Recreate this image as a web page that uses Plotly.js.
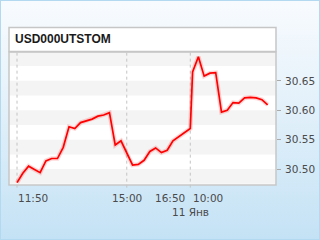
<!DOCTYPE html>
<html><head><meta charset="utf-8">
<script src="https://cdn.plot.ly/plotly-3.0.1.min.js"></script>
<style>
html,body{margin:0;padding:0;background:#c4e2f5;}
body{width:320px;height:240px;overflow:hidden;}
#wrap{position:relative;width:318px;height:238px;border:1px solid #b3d9f0;background:linear-gradient(#f8fbfe 0%, #e8f3fb 35%, #c4e2f5 100%);}
#chart{position:absolute;left:-1px;top:-1px;width:320px;height:240px;}
</style></head><body>
<div id="wrap"><div id="chart"></div></div>
<script>
const chartTitle = "USD000UTSTOM";
const day1Times = ["11:50","12:00","12:10","12:20","12:30","12:40","12:50","13:00","13:10","13:20",
  "13:30","13:40","13:50","14:00","14:10","14:20","14:30","14:40","14:50","15:00",
  "15:10","15:20","15:30","15:40","15:50","16:00","16:10","16:20","16:30","16:40","16:50"];
const day1Values = [30.477,30.493,30.505,30.500,30.494,30.514,30.518,30.518,30.537,30.572,
  30.569,30.579,30.582,30.585,30.590,30.592,30.596,30.541,30.548,30.526,
  30.507,30.508,30.515,30.530,30.536,30.528,30.532,30.548,30.555,30.563,30.569];
const day2Times = ["10:00","10:10","10:20","10:30","10:40","10:50","11:00","11:10","11:20","11:30","11:40","11:50","12:00","12:10"];
const day2Values = [30.665,30.691,30.658,30.663,30.664,30.597,30.600,30.613,30.612,30.621,30.622,30.621,30.618,30.609];
const dateLabel = "11 Янв";
const yTicks = [30.50, 30.55, 30.60, 30.65];

// layout constants
const dayGap = 0.4;
const stripeStep = 0.05;

const x1 = day1Times.map((t,i)=>i);
const x2 = day2Times.map((t,k)=>day1Times.length - 1 + dayGap + k);
const xs = x1.concat(x2);
const ys = day1Values.concat(day2Values);

const idx = t => { let i = day1Times.indexOf(t); if (i>=0) return x1[i]; return x2[day2Times.indexOf(t)]; };

const yMin = 30.473, yMax = 30.699;
const shapes = [];
const stripeTops = yTicks.concat([yTicks[yTicks.length-1] + stripeStep]);
stripeTops.forEach(v => shapes.push({type:'rect', xref:'paper', yref:'y', x0:0, x1:1, y0:v-stripeStep/2, y1:Math.min(v,yMax), fillcolor:'#f4f4f4', line:{width:0}, layer:'below'}));
[idx("11:50"), idx("15:00"), idx("16:50")].forEach(x => shapes.push({type:'line', xref:'x', yref:'paper', x0:x, x1:x, y0:-0.02, y1:1, line:{color:'#c4c4c4', width:1, dash:'dot'}, layer:'below'}));
shapes.push({type:'rect', xref:'paper', yref:'paper', x0:0, x1:1, y0:0, y1:1, line:{color:'#c6c6c6', width:1.5}, layer:'above'});
shapes.push({type:'rect', xref:'paper', yref:'paper', x0:0, x1:1, y0:1.004, y1:1.184, fillcolor:'#ffffff', line:{color:'#c6c6c6', width:1.5}});

const tickFont = {family:'DejaVu Sans, sans-serif', size:10.5, color:'#4a4a4a'};
const annotations = [
  {x:idx("11:50"), y:-0.04, xref:'x', yref:'paper', text:"11:50", showarrow:false, xanchor:'left', yanchor:'top', xshift:-1, font:tickFont},
  {x:idx("15:00"), y:-0.04, xref:'x', yref:'paper', text:"15:00", showarrow:false, xanchor:'center', yanchor:'top', font:tickFont},
  {x:idx("16:50"), y:-0.04, xref:'x', yref:'paper', text:"16:50", showarrow:false, xanchor:'right', yanchor:'top', xshift:-3, font:tickFont},
  {x:idx("16:50"), y:-0.04, xref:'x', yref:'paper', text:day2Times[0], showarrow:false, xanchor:'left', yanchor:'top', xshift:1, font:tickFont},
  {x:idx("16:50"), y:-0.145, xref:'x', yref:'paper', text:dateLabel, showarrow:false, xanchor:'center', yanchor:'top', font:tickFont}
];

const traces = [
  {x:xs, y:ys, type:'scatter', mode:'lines', line:{color:'rgba(255,0,0,0.16)', width:4.5}, hoverinfo:'skip'},
  {x:xs, y:ys, type:'scatter', mode:'lines', line:{color:'#ff0000', width:1.7}}
];

const layout = {
  width:320, height:240,
  margin:{l:9, r:44, t:52, b:55, pad:0},
  paper_bgcolor:'rgba(0,0,0,0)', plot_bgcolor:'#ffffff',
  showlegend:false,
  title:{text:chartTitle, x:15/320, xanchor:'left', xref:'container', y:1-39/240, yanchor:'middle', yref:'container',
    font:{family:'Liberation Sans, Arial, sans-serif', size:12, color:'#1a1a1a', weight:'bold'}},
  xaxis:{range:[-1.39, 44.84], showgrid:false, zeroline:false, showticklabels:false, ticks:'', fixedrange:true},
  yaxis:{range:[yMin, yMax], side:'right', tickvals:yTicks, ticktext:yTicks.map(v=>v.toFixed(2)), showgrid:false, zeroline:false,
    ticks:'outside', ticklen:4, tickcolor:'#aaaaaa', tickfont:tickFont, ticklabelstandoff:2},
  shapes:shapes, annotations:annotations
};
Plotly.newPlot('chart', traces, layout, {staticPlot:true, displayModeBar:false});
</script>
</body></html>
